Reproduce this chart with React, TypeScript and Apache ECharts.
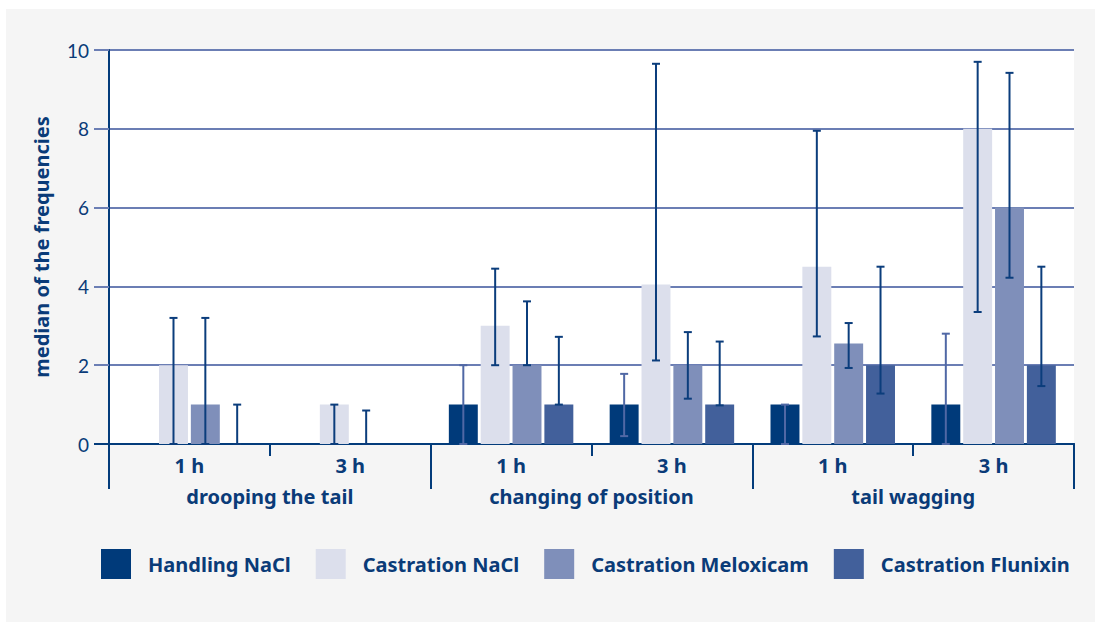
import React, { useEffect, useRef } from "react";
import * as echarts from "echarts";

const categories = ["1 h", "3 h", "1 h", "3 h", "1 h", "3 h"];
const groups = ["drooping the tail", "changing of position", "tail wagging"];
const seriesNames = ["Handling NaCl", "Castration NaCl", "Castration Meloxicam", "Castration Flunixin"];
const seriesColors = ["#003a7a", "#dcdfec", "#7f8fba", "#42609b"];
const errorColors = ["#5068a5", "#0b3d7c", "#0b3d7c", "#0b3d7c"];

const handling = [0, 0, 1, 1, 1, 1];
const naclValues = [2, 1, 3, 4.05, 4.5, 8];
const meloxValues = [1, 0, 2, 2, 2.55, 6];
const flunixValues = [0, 0, 1, 1, 2, 2];

const handlingLow = [null, null, 0, 0.2, 0, 0];
const handlingHigh = [null, null, 2.0, 1.78, 1.0, 2.8];
const naclLow = [0, 0, 2, 2.12, 2.73, 3.35];
const naclHigh = [3.2, 1.0, 4.45, 9.65, 7.95, 9.7];
const meloxLow = [0, 0, 2, 1.15, 1.93, 4.22];
const meloxHigh = [3.2, 0.85, 3.62, 2.84, 3.07, 9.42];
const flunixLow = [0, null, 1, 0.98, 1.28, 1.47];
const flunixHigh = [1.0, null, 2.72, 2.6, 4.5, 4.5];

const yTicks = { min: 0, max: 10, interval: 2 };

const TEXT = "#0a3b78";
const AXIS = "#033c7b";
const GRIDLINE = "#6b7eb4";
const FONT = "Noto Sans";
const NUM_FONT = "Lato";
const BAR_W = 0.18;
const BAR_GAP = 0.1;

export default function App() {
  const ref = useRef<HTMLDivElement>(null);
  useEffect(() => {
    if (!ref.current) return;
    const chart = echarts.init(ref.current, undefined, { renderer: "svg" });
    const values = [handling, naclValues, meloxValues, flunixValues];
    const lows = [handlingLow, naclLow, meloxLow, flunixLow];
    const highs = [handlingHigh, naclHigh, meloxHigh, flunixHigh];

    const barSeries = seriesNames.map((name, s) => ({
      name,
      type: "bar",
      xAxisIndex: 0,
      yAxisIndex: 0,
      data: values[s],
      barWidth: BAR_W * 100 + "%",
      barGap: BAR_GAP * 100 + "%",
      itemStyle: { color: seriesColors[s] },
      z: 2,
    }));

    const errSeries = seriesNames.map((name, s) => ({
      name: name + " err",
      type: "custom",
      xAxisIndex: 0,
      yAxisIndex: 0,
      z: 5,
      silent: true,
      encode: { x: 0, y: [1, 2] },
      data: lows[s]
        .map((lo, i) => (lo === null || highs[s][i] === null ? null : [i, lo, highs[s][i]]))
        .filter((d) => d !== null),
      renderItem: (params: any, api: any) => {
        const idx = api.value(0);
        const lo = api.value(1);
        const hi = api.value(2);
        const band = api.size([1, 0])[0];
        const w = band * BAR_W;
        const g = w * BAR_GAP;
        const total = 4 * w + 3 * g;
        const off = -total / 2 + s * (w + g) + w / 2;
        const pLo = api.coord([idx, lo]);
        const pHi = api.coord([idx, hi]);
        const x = pLo[0] + off;
        const cap = 4;
        const style = { stroke: errorColors[s], lineWidth: 2 };
        return {
          type: "group",
          children: [
            { type: "line", shape: { x1: x, y1: pLo[1], x2: x, y2: pHi[1] }, style },
            { type: "line", shape: { x1: x - cap, y1: pHi[1], x2: x + cap, y2: pHi[1] }, style },
            { type: "line", shape: { x1: x - cap, y1: pLo[1], x2: x + cap, y2: pLo[1] }, style },
          ],
        };
      },
    }));

    chart.setOption({
      animation: false,
      backgroundColor: "#f5f5f5",
      textStyle: { fontFamily: FONT, color: TEXT },
      grid: {
        left: 103,
        right: 21,
        top: 41,
        bottom: 178,
        show: true,
        backgroundColor: "#ffffff",
        borderWidth: 0,
      },
      legend: {
        data: seriesNames,
        orient: "horizontal",
        left: 90,
        top: 535,
        width: 995,
        icon: "rect",
        itemWidth: 30,
        itemHeight: 30,
        itemGap: 25,
        textStyle: {
          fontFamily: FONT,
          fontWeight: "bold",
          fontSize: 20,
          color: TEXT,
          padding: [0, 0, 0, 12],
        },
      },
      xAxis: [
        {
          type: "category",
          data: categories,
          position: "bottom",
          axisLine: { show: true, lineStyle: { color: AXIS, width: 2 } },
          axisTick: {
            show: true,
            alignWithLabel: false,
            interval: (i: number) => i % 2 === 1,
            length: 12,
            lineStyle: { color: AXIS, width: 2 },
          },
          axisLabel: {
            margin: 11,
            fontFamily: FONT,
            fontWeight: "bold",
            fontSize: 20,
            color: TEXT,
          },
          splitLine: { show: false },
        },
        {
          type: "category",
          data: groups,
          position: "bottom",
          axisLine: { show: true, lineStyle: { color: AXIS, width: 2 } },
          axisTick: {
            show: true,
            alignWithLabel: false,
            interval: 0,
            length: 45,
            lineStyle: { color: AXIS, width: 2 },
          },
          axisLabel: {
            margin: 42,
            fontFamily: FONT,
            fontWeight: "bold",
            fontSize: 20,
            color: TEXT,
          },
          splitLine: { show: false },
        },
      ],
      yAxis: {
        type: "value",
        min: yTicks.min,
        max: yTicks.max,
        interval: yTicks.interval,
        name: "median of the frequencies",
        nameLocation: "middle",
        nameGap: 58,
        nameRotate: 90,
        nameTextStyle: { fontFamily: FONT, fontWeight: "bold", fontSize: 20, color: TEXT },
        axisLine: { show: true, lineStyle: { color: AXIS, width: 2 } },
        axisTick: { show: true, length: 15, lineStyle: { color: GRIDLINE, width: 2 } },
        axisLabel: { margin: 20, fontFamily: NUM_FONT, fontSize: 19, color: TEXT },
        splitLine: { show: true, lineStyle: { color: GRIDLINE, width: 2 } },
      },
      graphic: [
        {
          type: "line",
          shape: { x1: 88, y1: 435, x2: 104, y2: 435 },
          style: { stroke: AXIS, lineWidth: 2 },
          z: 10,
        },
      ],
      series: [...barSeries, ...errSeries],
    });
    return () => chart.dispose();
  }, []);

  return (
    <div style={{ position: "absolute", left: 0, top: 0, width: 1095, height: 622, background: "#ffffff" }}>
      <div ref={ref} style={{ position: "absolute", left: 6, top: 9, width: 1089, height: 613 }} />
    </div>
  );
}
